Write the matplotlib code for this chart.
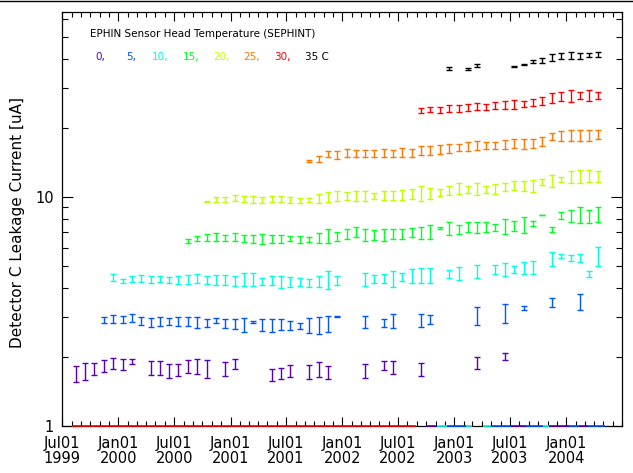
import datetime as dt
import matplotlib
matplotlib.use("Agg")
import matplotlib.pyplot as plt
import matplotlib.dates as mdates
import matplotlib.ticker as mticker
from matplotlib.lines import Line2D

# ---------------- data ----------------
temps = ["0,", "5,", "10,", "15,", "20,", "25,", "30,", "35 C"]
colors = ["#5a00b4", "#0055ff", "#00ffdd", "#00ff22", "#bbff00", "#ff7700", "#ff0000", "#000000"]

# month offsets from Jul 1999 (0 = Jul 1999); min / max leakage current in uA
m0 = [1, 2, 3, 4, 5, 6, 7, 9, 10, 11, 12, 13, 14, 15, 17, 18, 22, 23, 24, 26, 27, 28, 32, 34, 35, 38, 44, 47]
hi0 = [1.83, 1.88, 1.89, 1.94, 1.99, 1.97, 1.97, 1.92, 1.92, 1.87, 1.87, 1.94, 1.96, 1.94, 1.91, 1.96,
       1.77, 1.80, 1.84, 1.84, 1.90, 1.82, 1.86, 1.92, 1.92, 1.88, 2.01, 2.09]
lo0 = [1.56, 1.59, 1.67, 1.72, 1.77, 1.76, 1.86, 1.67, 1.67, 1.62, 1.65, 1.70, 1.68, 1.62, 1.65, 1.77,
       1.57, 1.61, 1.63, 1.60, 1.63, 1.60, 1.62, 1.75, 1.68, 1.65, 1.77, 1.94]

m5 = [4, 5, 6, 7, 8, 9, 10, 11, 12, 13, 14, 15, 16, 17, 18, 19, 20, 21, 22, 23, 24, 25, 26, 27, 28, 29,
      32, 34, 35, 38, 39, 44, 47, 49, 52, 55]
hi5 = [2.98, 3.04, 3.02, 3.08, 2.98, 2.95, 2.98, 2.95, 2.98, 2.98, 2.98, 2.92, 2.95, 2.92, 2.92, 2.95,
       2.87, 2.92, 2.92, 2.92, 2.87, 2.81, 2.95, 2.98, 3.01, 3.01, 3.01, 2.94, 3.07, 3.07, 3.04, 3.32,
       3.40, 3.35, 3.63, 3.76]
lo5 = [2.81, 2.81, 2.81, 2.85, 2.75, 2.70, 2.73, 2.75, 2.73, 2.73, 2.67, 2.70, 2.81, 2.67, 2.64, 2.57,
       2.81, 2.59, 2.57, 2.62, 2.62, 2.64, 2.54, 2.51, 2.57, 3.00, 2.67, 2.70, 2.67, 2.70, 2.78, 2.75,
       2.81, 3.20, 3.30, 3.20]

m10 = [5, 6, 7, 8, 9, 10, 11, 12, 13, 14, 15, 16, 17, 18, 19, 20, 21, 22, 23, 24, 25, 26, 27, 28, 29,
       32, 33, 34, 35, 36, 37, 38, 39, 41, 42, 44, 46, 47, 48, 49, 50, 52, 53, 54, 55, 56, 57]
hi10 = [4.61, 4.37, 4.52, 4.56, 4.52, 4.52, 4.46, 4.52, 4.56, 4.61, 4.52, 4.56, 4.56, 4.52, 4.67, 4.67,
        4.42, 4.52, 4.52, 4.46, 4.42, 4.37, 4.52, 4.77, 4.52, 4.67, 4.56, 4.61, 4.77, 4.67, 4.83, 4.88,
        4.88, 4.79, 4.93, 5.03, 5.03, 5.13, 4.98, 5.19, 5.24, 5.73, 5.62, 5.56, 5.62, 4.74, 6.03]
lo10 = [4.31, 4.20, 4.27, 4.27, 4.22, 4.27, 4.22, 4.18, 4.18, 4.22, 4.18, 4.14, 4.14, 4.09, 4.09, 4.09,
        4.13, 4.13, 3.99, 4.03, 4.09, 4.03, 4.03, 3.95, 4.13, 4.09, 4.20, 4.20, 4.03, 4.31, 4.22, 4.20,
        4.20, 4.42, 4.35, 4.42, 4.60, 4.51, 4.64, 4.60, 4.60, 4.98, 5.43, 5.24, 5.19, 4.46, 4.98]

m15 = list(range(13, 58))
hi15 = [6.58, 6.78, 6.89, 6.94, 6.85, 6.94, 6.80, 6.80, 6.87, 6.85, 6.85, 6.76, 6.76, 6.71, 6.94, 7.23,
        7.05, 7.23, 7.42, 7.27, 7.18, 7.27, 7.27, 7.23, 7.32, 7.42, 7.57, 7.37, 7.76, 7.55, 7.76, 7.76,
        7.76, 7.62, 7.99, 7.83, 8.16, 7.83, 8.35, 7.42, 8.58, 8.78, 9.02, 8.78, 9.02]
lo15 = [6.32, 6.45, 6.45, 6.45, 6.45, 6.45, 6.38, 6.32, 6.25, 6.32, 6.32, 6.41, 6.28, 6.36, 6.32, 6.28,
        6.41, 6.54, 6.67, 6.41, 6.49, 6.41, 6.54, 6.54, 6.67, 6.54, 6.54, 7.23, 6.80, 6.87, 7.01, 6.94,
        7.01, 7.08, 6.87, 7.08, 6.94, 7.47, 8.33, 7.01, 7.99, 7.76, 7.68, 7.68, 7.76]

m20 = list(range(15, 58))
hi20 = [9.61, 10.00, 9.97, 10.20, 10.10, 10.10, 10.03, 10.10, 10.10, 10.03, 9.93, 9.93, 10.28, 10.52,
        10.59, 10.52, 10.59, 10.59, 10.38, 10.59, 10.59, 10.73, 10.84, 11.13, 10.98, 10.85, 11.17, 11.47,
        11.17, 11.47, 11.17, 11.40, 11.47, 11.71, 11.71, 11.86, 11.95, 12.48, 12.26, 12.95, 13.12, 13.12,
        12.95]
lo20 = [9.48, 9.51, 9.51, 9.61, 9.51, 9.42, 9.44, 9.54, 9.54, 9.44, 9.44, 9.54, 9.39, 9.54, 9.64, 9.73,
        9.64, 9.64, 9.83, 9.73, 9.73, 9.73, 9.83, 9.58, 9.83, 10.14, 10.17, 10.28, 10.38, 10.17, 10.38,
        10.28, 10.59, 10.73, 10.65, 10.55, 11.25, 11.06, 11.59, 11.48, 11.48, 11.59, 11.59]

m25 = list(range(26, 58))
hi25 = [14.56, 15.15, 15.89, 15.84, 16.16, 16.05, 16.05, 16.05, 16.16, 16.05, 16.32, 16.16, 16.71, 16.71,
        16.82, 16.99, 16.99, 17.34, 17.51, 17.34, 17.34, 17.75, 17.87, 17.87, 17.87, 18.23, 18.98, 19.36,
        19.62, 19.62, 19.62, 19.62]
lo25 = [14.18, 14.26, 15.00, 14.70, 15.00, 14.91, 14.91, 14.91, 15.00, 14.91, 15.00, 14.91, 15.21, 15.21,
        15.41, 15.52, 15.84, 15.84, 16.00, 16.16, 16.16, 16.16, 16.32, 16.16, 16.32, 16.66, 17.69, 17.51,
        17.51, 17.51, 17.51, 17.87]

m30 = list(range(38, 58))
hi30 = [24.54, 24.80, 24.64, 25.15, 25.15, 25.48, 25.66, 25.48, 25.99, 26.18, 26.44, 26.18, 26.71, 27.26,
        28.37, 28.84, 29.33, 28.84, 29.33, 28.84]
lo30 = [23.20, 23.57, 23.20, 23.57, 23.57, 23.82, 24.06, 24.06, 24.30, 24.30, 24.30, 24.80, 24.97, 25.30,
        25.81, 26.34, 26.07, 26.87, 26.34, 26.87]

m35 = [41, 43, 44, 48, 49, 50, 51, 52, 53, 54, 55, 56, 57]
hi35 = [37.07, 36.48, 38.09, 37.25, 38.09, 39.65, 40.34, 42.12, 42.42, 42.85, 42.42, 42.42, 42.85]
lo35 = [35.75, 35.97, 36.85, 37.10, 37.60, 38.36, 38.36, 39.26, 39.94, 40.06, 39.94, 40.74, 40.74]

# off-scale (<1 uA) stretches drawn on the bottom axis: (start month, end month, series index)
bottom_runs = [(1.1, 37.9, 6), (39.0, 40.1, 0), (40.1, 41.2, 2), (41.2, 43.2, 1), (43.2, 44.0, 2),
               (45.1, 46.0, 2), (46.0, 48.1, 1), (48.1, 49.7, 0), (49.7, 51.5, 1), (51.5, 52.2, 2),
               (52.2, 54.3, 0), (54.3, 55.4, 1), (55.4, 56.4, 0), (56.4, 58.2, 1)]

# labelled major ticks (every six months)
major_ticks = ["1999-07-01", "2000-01-01", "2000-07-01", "2001-01-01", "2001-07-01", "2002-01-01",
               "2002-07-01", "2003-01-01", "2003-07-01", "2004-01-01"]

series = [(m0, lo0, hi0), (m5, lo5, hi5), (m10, lo10, hi10), (m15, lo15, hi15),
          (m20, lo20, hi20), (m25, lo25, hi25), (m30, lo30, hi30), (m35, lo35, hi35)]


def month_date(k, day=15):
    y = 1999 + (6 + int(k)) // 12
    m = (6 + int(k)) % 12 + 1
    return dt.datetime(y, m, day)


def month_float(x):
    base = month_date(int(x), 1)
    nxt = month_date(int(x) + 1, 1)
    return base + (nxt - base) * (x - int(x))


# ---------------- figure ----------------
W, H = 633, 473
fig = plt.figure(figsize=(W / 100, H / 100), dpi=100)
fig.patch.set_facecolor("white")
L, R, T, B = 62, 622, 11.7, 426
ax = fig.add_axes([L / W, 1 - B / H, (R - L) / W, (B - T) / H])
ax.set_yscale("log")
ax.set_ylim(1, 64.45)
ax.set_xlim(dt.datetime(1999, 7, 1), dt.datetime(2004, 7, 1))

for (ms, lo, hi), c in zip(series, colors):
    xs = [month_date(k) for k in ms]
    up = [h - l for h, l in zip(hi, lo)]
    ax.errorbar(xs, lo, yerr=[[0] * len(lo), up], fmt="none", ecolor=c,
                elinewidth=1.0, capsize=2.5, capthick=1.0)

for s, e, i in bottom_runs:
    ax.plot([month_float(s), month_float(e)], [1, 1], color=colors[i], lw=1.2,
            clip_on=False, zorder=5, solid_capstyle="butt")

for sp in ax.spines.values():
    sp.set_linewidth(0.9)
    sp.set_color("black")

ticks = [dt.datetime.strptime(s, "%Y-%m-%d") for s in major_ticks]
ax.set_xticks(ticks)
ax.set_xticklabels([t.strftime("%b%d\n%Y") for t in ticks])
ax.xaxis.set_minor_locator(mdates.MonthLocator())

ax.tick_params(axis="x", which="major", direction="in", length=6.5, width=0.8, top=True,
               labelsize=10.5, pad=7)
ax.tick_params(axis="x", which="minor", direction="in", length=3.6, width=0.8, top=True)
ax.tick_params(axis="y", which="major", direction="in", length=8, width=0.8, right=True,
               labelsize=10.5, pad=6)
ax.tick_params(axis="y", which="minor", direction="in", length=4.3, width=0.8, right=True)
ax.yaxis.set_major_formatter(mticker.FuncFormatter(lambda v, p: "%d" % round(v)))
ax.yaxis.set_minor_formatter(mticker.NullFormatter())

for lab in ax.get_xticklabels():
    lab.set_linespacing(1.05)

ax.set_ylabel("Detector C Leakage Current [uA]", fontsize=11)
ax.yaxis.set_label_coords((25 - L) / (R - L), (B - 222) / (B - T))

fig.text(90 / W, 1 - 34 / H, "EPHIN Sensor Head Temperature (SEPHINT)", fontsize=7.5,
         ha="left", va="center")
label_x = [95, 126, 152, 183, 213, 243, 274, 305]
for t, c, xp in zip(temps, colors, label_x):
    fig.text(xp / W, 1 - 57 / H, t, fontsize=7.5, color=c, ha="left", va="center")

fig.add_artist(Line2D([0, 1], [1 - 0.6 / H, 1 - 0.6 / H], transform=fig.transFigure,
                      color="black", lw=1.0))

fig.savefig("out.png", dpi=100)
